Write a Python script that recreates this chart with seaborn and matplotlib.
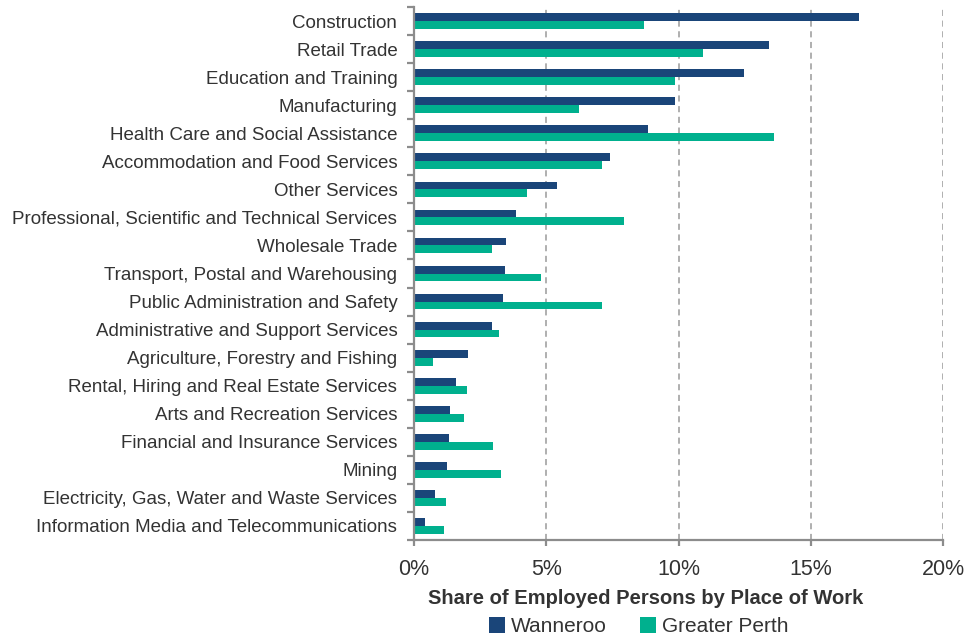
import pandas as pd
import matplotlib.pyplot as plt
import seaborn as sns
from matplotlib.ticker import FixedLocator, FuncFormatter

industries = ['Construction', 'Retail Trade', 'Education and Training', 'Manufacturing',
              'Health Care and Social Assistance', 'Accommodation and Food Services',
              'Other Services', 'Professional, Scientific and Technical Services',
              'Wholesale Trade', 'Transport, Postal and Warehousing',
              'Public Administration and Safety', 'Administrative and Support Services',
              'Agriculture, Forestry and Fishing', 'Rental, Hiring and Real Estate Services',
              'Arts and Recreation Services', 'Financial and Insurance Services', 'Mining',
              'Electricity, Gas, Water and Waste Services',
              'Information Media and Telecommunications']
wanneroo = [16.82, 13.42, 12.46, 9.88, 8.84, 7.39, 5.41, 3.86, 3.46, 3.42,
            3.37, 2.96, 2.05, 1.58, 1.35, 1.31, 1.24, 0.78, 0.43]
greater_perth = [8.71, 10.94, 9.88, 6.24, 13.61, 7.12, 4.26, 7.92, 2.96, 4.79,
                 7.12, 3.20, 0.71, 2.01, 1.88, 2.99, 3.30, 1.19, 1.15]
regions = ['Wanneroo', 'Greater Perth']
x_ticks = [0, 5, 10, 15, 20]

df = pd.DataFrame({
    'Industry': industries * 2,
    'Share': wanneroo + greater_perth,
    'Region': [regions[0]] * len(industries) + [regions[1]] * len(industries),
})

sns.set_style('white')
plt.rcParams['font.family'] = ['Liberation Sans', 'DejaVu Sans']
txt = '#333333'
grey = '#8c8c8c'

fig = plt.figure(figsize=(9.71, 6.38), dpi=100)
ax = fig.add_axes([0.4264, 0.1536, 0.5449, 0.8354])

sns.barplot(data=df, y='Industry', x='Share', hue='Region', orient='h',
            palette=['#1a4579', '#00b08e'], width=0.56, saturation=1,
            errorbar=None, linewidth=0, ax=ax)

ax.set_xlim(0, 20)
ax.set_ylim(len(industries) - 0.5, -0.5)
ax.xaxis.set_major_locator(FixedLocator(x_ticks))
ax.xaxis.set_major_formatter(FuncFormatter(lambda v, p: f'{v:.0f}%'))
ax.yaxis.set_minor_locator(FixedLocator([i - 0.5 for i in range(len(industries) + 1)]))

ax.set_axisbelow(True)
ax.grid(axis='x', linestyle=(0, (4, 3)), color='#9a9a9a', linewidth=1.1)
ax.grid(axis='y', visible=False)

for s in ['top', 'right']:
    ax.spines[s].set_visible(False)
for s in ['left', 'bottom']:
    ax.spines[s].set_color(grey)
    ax.spines[s].set_linewidth(1.6)

ax.tick_params(axis='y', which='major', length=0, pad=12, labelsize=13.5, labelcolor=txt)
ax.tick_params(axis='y', which='minor', left=True, length=5, width=1.6, color=grey)
ax.tick_params(axis='x', which='major', bottom=True, length=4, width=1.6, color=grey,
               pad=10, labelsize=15.5, labelcolor=txt)

ax.set_ylabel('')
ax.set_xlabel('Share of Employed Persons by Place of Work', fontsize=14.5,
              fontweight='bold', color=txt)
ax.xaxis.label.set_va('center')
ax.xaxis.set_label_coords(0.437, -0.109)

ax.legend(loc='center', bbox_to_anchor=(0.425, -0.163), ncol=2, frameon=False,
          fontsize=15, handlelength=0.75, handleheight=0.75, handletextpad=0.3,
          columnspacing=1.6, labelcolor=txt)

fig.savefig('out.png', dpi=100)
